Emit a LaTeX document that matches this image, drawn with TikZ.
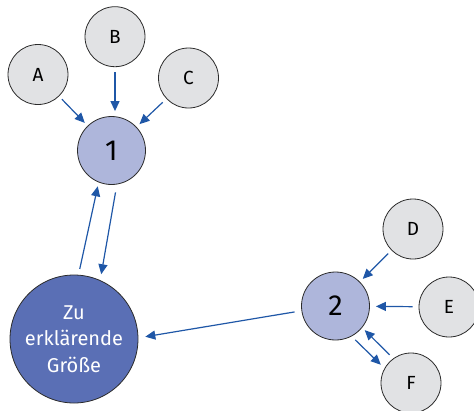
\documentclass[tikz,border=0pt]{standalone}
\usepackage{fontspec}
\setmainfont{Fira Sans}
\usetikzlibrary{arrows.meta,calc}
\definecolor{factorgray}{HTML}{E1E2E4}
\definecolor{latentlight}{HTML}{AEB6DB}
\definecolor{targetblue}{HTML}{5A6FB5}
\definecolor{linkblue}{HTML}{1F57A7}
\definecolor{rimgray}{HTML}{2B2B2B}
\tikzset{
  ball/.style={circle, draw=rimgray, line width=0.8pt, inner sep=0pt, align=center},
  factor/.style={ball, fill=factorgray, minimum size=60pt, font=\fontsize{19}{23}\selectfont},
  latent/.style={ball, fill=latentlight, minimum size=68pt, font=\fontsize{29}{33}\selectfont},
  target/.style={ball, fill=targetblue, minimum size=128pt, text=white, font=\fontsize{20}{26.7}\selectfont},
  link/.style={draw=linkblue, line width=1.2pt, -{Triangle[length=10pt,width=9pt]}}
}
\begin{document}
\begin{tikzpicture}[x=1pt,y=-1pt]
  \useasboundingbox (0,0) rectangle (474,410);
  % influencing factors
  \node[factor] (A) at (38,74.5) {A};
  \node[factor] (B) at (115,36.7) {B};
  \node[factor] (C) at (188.5,78) {C};
  \node[factor] (D) at (413,229) {D};
  \node[factor] (E) at (449,307) {E};
  \node[factor] (F) at (411,383) {F};
  % intermediate constructs
  \node[latent] (one) at (111.5,150.5) {1};
  \node[latent] (two) at (335.5,306) {2};
  % variable to be explained
  \node[target] (Y) at (74,339) {Zu\\erklärende\\Größe};

  % arrows into construct 1
  \draw[link, shorten <=4pt, shorten >=4pt] (A) -- (one);
  \draw[link, shorten <=5pt, shorten >=5pt] (B.south) -- (B.south |- one.north);
  \draw[link, shorten <=5pt, shorten >=4pt] (C) -- (one);
  % mutual link between 1 and the target
  \draw[link, shorten <=6pt, shorten >=4pt] (Y.86.7) -- (one.-112.5);
  \draw[link, shorten <=8pt, shorten >=6pt] (one.-81) -- (Y.66.4);
  % construct 2 to the target
  \draw[link, shorten <=7pt, shorten >=7pt] (two.188.4) -- (Y.1.6);
  % arrows into construct 2
  \draw[link, shorten <=4.5pt, shorten >=4pt] (D) -- (two);
  \draw[link, shorten <=6pt, shorten >=6pt] (E) -- (two);
  \draw[link, shorten <=5pt, shorten >=3.5pt] (F.126.9) -- (two.-39.8);
  \draw[link, shorten <=5pt, shorten >=5pt] (two.-62.8) -- (F.151.3);
\end{tikzpicture}
\end{document}
